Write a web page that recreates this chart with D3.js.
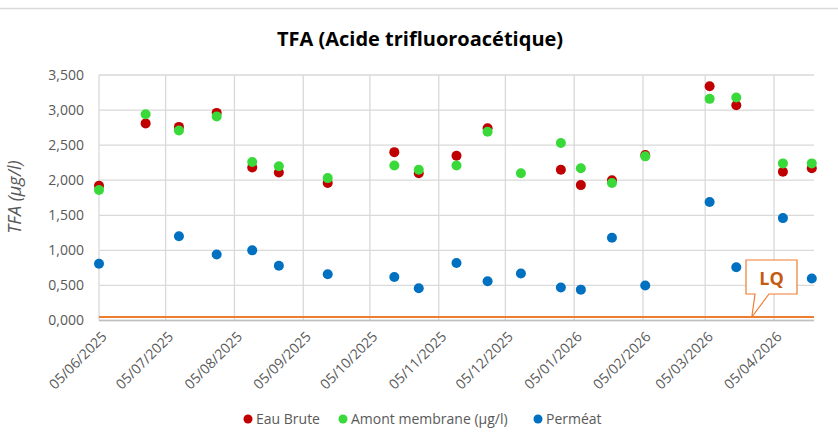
<!DOCTYPE html>
<html lang="fr">
<head>
    <meta charset="UTF-8">
    <title>TFA</title>
    <style>
        body { margin: 0; background: #fff; }
        .title { font-family: "Open Sans", sans-serif; font-weight: bold; font-size: 20px; fill: #000; }
        .axis text { font-family: "Open Sans", sans-serif; font-size: 14px; fill: #595959; }
        .axis path, .axis line { stroke: none; }
        .grid line { stroke: #d9d9d9; stroke-width: 1.3px; }
        .ytitle { font-family: "Open Sans", sans-serif; font-style: italic; font-size: 18px; fill: #595959; }
        .legend text { font-family: "Open Sans", sans-serif; font-size: 14px; fill: #595959; }
    </style>
    <script src="https://d3js.org/d3.v7.min.js"></script>
</head>
<body>
<div id="chart"></div>
<script>
    // sampling dates and measured values (µg/l)
    const dates = ["2025-06-05", "2025-06-26", "2025-07-11", "2025-07-28", "2025-08-13", "2025-08-25",
        "2025-09-16", "2025-10-16", "2025-10-27", "2025-11-13", "2025-11-27", "2025-12-12", "2025-12-30",
        "2026-01-08", "2026-01-22", "2026-02-06", "2026-03-07", "2026-03-19", "2026-04-09", "2026-04-22"];
    const eauBrute = [1.92, 2.81, 2.76, 2.96, 2.18, 2.11, 1.96, 2.40, 2.10, 2.35, 2.74, null, 2.15,
        1.93, 2.00, 2.36, 3.34, 3.07, 2.12, 2.17];
    const amont = [1.86, 2.94, 2.71, 2.91, 2.26, 2.20, 2.03, 2.21, 2.15, 2.21, 2.69, 2.10, 2.53,
        2.17, 1.96, 2.34, 3.16, 3.18, 2.24, 2.24];
    const permeat = [0.81, null, 1.20, 0.94, 1.00, 0.78, 0.66, 0.62, 0.46, 0.82, 0.56, 0.67, 0.47,
        0.44, 1.18, 0.50, 1.69, 0.76, 1.46, 0.60];
    const lq = 0.05;
    const xTickLabels = ["05/06/2025", "05/07/2025", "05/08/2025", "05/09/2025", "05/10/2025", "05/11/2025",
        "05/12/2025", "05/01/2026", "05/02/2026", "05/03/2026", "05/04/2026"];
    const yTicks = [0, 0.5, 1, 1.5, 2, 2.5, 3, 3.5];
    const xDomain = ["2025-06-05", "2026-04-23"];

    const seriesNames = ["Eau Brute", "Amont membrane (µg/l)", "Perméat"];
    const seriesColors = ["#c00000", "#3ad93a", "#0070c0"];
    const seriesValues = [eauBrute, amont, permeat];

    const width = 838, height = 440;
    const margin = {top: 75, right: 24, bottom: 119.5, left: 99};

    const parseDate = d3.timeParse("%Y-%m-%d");
    const parseLabel = d3.timeParse("%d/%m/%Y");
    const fr = d3.formatLocale({decimal: ",", thousands: " ", grouping: [3], currency: ["", " €"]});

    const svg = d3.select("#chart").append("svg")
        .attr("width", width)
        .attr("height", height);

    // thin frame line at the top
    svg.append("line")
        .attr("x1", 0).attr("x2", width)
        .attr("y1", 8.5).attr("y2", 8.5)
        .attr("stroke", "#d9d9d9").attr("stroke-width", 1.3);

    const x = d3.scaleTime()
        .domain(xDomain.map(parseDate))
        .range([margin.left, width - margin.right]);

    const y = d3.scaleLinear()
        .domain([0, 3.5])
        .range([height - margin.bottom, margin.top]);

    const tickDates = xTickLabels.map(parseLabel);

    // grid
    svg.append("g").attr("class", "grid")
        .selectAll("line").data(yTicks).join("line")
        .attr("x1", margin.left).attr("x2", width - margin.right)
        .attr("y1", d => y(d)).attr("y2", d => y(d));
    svg.append("g").attr("class", "grid")
        .selectAll("line").data(tickDates).join("line")
        .attr("x1", d => x(d)).attr("x2", d => x(d))
        .attr("y1", y(3.5)).attr("y2", y(0));

    // bottom axis line
    svg.append("line")
        .attr("x1", margin.left).attr("x2", width - margin.right)
        .attr("y1", y(0)).attr("y2", y(0))
        .attr("stroke", "#bfbfbf").attr("stroke-width", 1.3);

    // y axis
    svg.append("g").attr("class", "axis")
        .attr("transform", `translate(${margin.left}, 0)`)
        .call(d3.axisLeft(y).tickValues(yTicks).tickFormat(fr.format(",.3f")).tickSize(0).tickPadding(15));

    // x axis with rotated labels
    const xAxis = svg.append("g").attr("class", "axis")
        .attr("transform", `translate(0, ${y(0)})`)
        .call(d3.axisBottom(x).tickValues(tickDates).tickFormat((d, i) => xTickLabels[i]).tickSize(0));
    xAxis.selectAll("text")
        .attr("text-anchor", "end")
        .attr("dy", 0)
        .attr("transform", "translate(6, 15) rotate(-45)");

    // LQ line
    svg.append("line")
        .attr("x1", margin.left).attr("x2", width - margin.right)
        .attr("y1", y(lq)).attr("y2", y(lq))
        .attr("stroke", "#ed7d31").attr("stroke-width", 2.2);

    // points
    seriesValues.forEach((vals, k) => {
        const pts = dates.map((d, i) => ({date: parseDate(d), v: vals[i]})).filter(p => p.v !== null);
        svg.append("g").selectAll("circle").data(pts).join("circle")
            .attr("cx", p => x(p.date))
            .attr("cy", p => y(p.v))
            .attr("r", 5)
            .attr("fill", seriesColors[k]);
    });

    // LQ callout
    const lqDate = parseDate("2026-03-26");
    const bx = 746, by = 260, bw = 51, bh = 34;
    const tipX = x(lqDate), tipY = y(lq);
    svg.append("path")
        .attr("d", `M${bx},${by} H${bx + bw} V${by + bh} H${bx + 23} L${tipX},${tipY} L${bx + 9},${by + bh} H${bx} Z`)
        .attr("fill", "#fff")
        .attr("stroke", "#ed7d31")
        .attr("stroke-width", 1.2);
    svg.append("text")
        .attr("x", bx + bw / 2)
        .attr("y", by + 25)
        .attr("text-anchor", "middle")
        .attr("font-family", "Open Sans, sans-serif")
        .attr("font-weight", "bold")
        .attr("font-size", 18)
        .attr("fill", "#c55a11")
        .text("LQ");

    // title
    svg.append("text").attr("class", "title")
        .attr("x", 420).attr("y", 46)
        .attr("text-anchor", "middle")
        .text("TFA (Acide trifluoroacétique)");

    // y axis title
    svg.append("text").attr("class", "ytitle")
        .attr("transform", `translate(21, 197) rotate(-90)`)
        .attr("text-anchor", "middle")
        .text("TFA (µg/l)");

    // legend
    const legendX = [248, 343, 538];
    const legend = svg.append("g").attr("class", "legend");
    seriesNames.forEach((name, k) => {
        legend.append("circle")
            .attr("cx", legendX[k]).attr("cy", 419).attr("r", 4.5)
            .attr("fill", seriesColors[k]);
        legend.append("text")
            .attr("x", legendX[k] + 8).attr("y", 424)
            .text(name);
    });
</script>
</body>
</html>
